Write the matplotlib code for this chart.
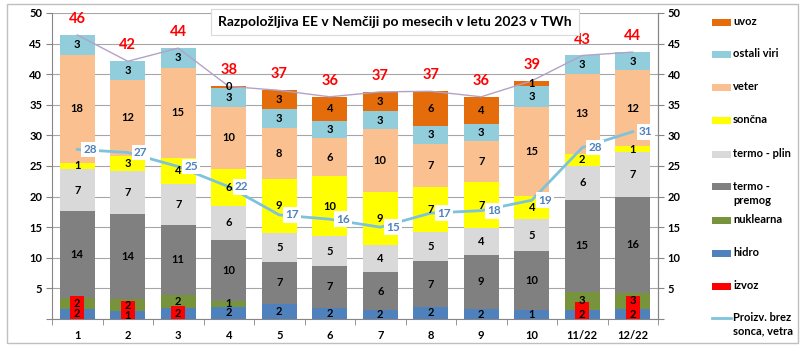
import matplotlib
matplotlib.use('Agg')
import matplotlib.pyplot as plt
from matplotlib.patches import Rectangle
import numpy as np

plt.rcParams['font.family'] = ['Lato', 'DejaVu Sans']

meseci = ['1', '2', '3', '4', '5', '6', '7', '8', '9', '10', '11/22', '12/22']

# TWh, odčitano s slike (od spodaj navzgor)
hidro = [1.7, 1.3, 1.75, 2.0, 2.45, 1.8, 1.5, 2.0, 1.6, 1.4, 1.55, 1.6]
nuklearna = [1.8, 1.9, 2.2, 1.0, 0, 0, 0, 0, 0, 0, 2.9, 2.7]
premog = [14.1, 14.0, 11.4, 9.9, 6.9, 6.9, 6.1, 7.4, 8.9, 9.7, 15.0, 15.6]
plin = [6.9, 6.9, 6.7, 5.6, 4.7, 4.8, 4.5, 4.8, 4.4, 5.2, 5.6, 7.4]
soncna = [1.0, 2.6, 4.3, 6.0, 8.9, 9.8, 8.6, 7.3, 7.4, 3.8, 1.9, 0.9]
veter = [17.7, 12.4, 14.7, 10.2, 8.3, 6.2, 10.3, 7.1, 6.8, 14.6, 13.1, 12.4]
ostali = [3.2, 3.0, 3.2, 3.1, 3.0, 2.85, 2.9, 3.0, 2.8, 3.3, 3.0, 3.0]
uvoz = [0, 0, 0, 0.2, 3.1, 3.95, 3.2, 5.6, 4.4, 0.9, 0, 0]
izvoz = [3.8, 3.0, 2.2, 0, 0, 0, 0, 0, 0, 0, 2.8, 3.8]
brez_sonca_vetra = [27.7, 27.2, 24.9, 21.6, 17.0, 16.3, 15.0, 17.3, 17.7, 19.4, 28.0, 30.6]

serije = [
    ('hidro', hidro, '#4F81BD'),
    ('nuklearna', nuklearna, '#77933C'),
    ('termo -\npremog', premog, '#808080'),
    ('termo - plin', plin, '#D9D9D9'),
    ('sončna', soncna, '#FFFF00'),
    ('veter', veter, '#FAC090'),
    ('ostali viri', ostali, '#92CDDC'),
    ('uvoz', uvoz, '#E46C0A'),
]

fig = plt.figure(figsize=(8, 3.51), dpi=100)
ax = fig.add_axes([0.065, 0.0912, 0.7575, 0.872])
x = np.arange(len(meseci))

bottom = np.zeros(len(meseci))
for ime, vals, barva in serije:
    vals = np.array(vals, dtype=float)
    ax.bar(x, vals, 0.69, bottom=bottom, color=barva, linewidth=0, zorder=2)
    for xi, b, v in zip(x, bottom, vals):
        if v > 0:
            ax.text(xi, b + v / 2, f"{v:.0f}", ha='center', va='center',
                    fontsize=8, fontweight='bold', color='black', zorder=8)
    bottom += vals
skupaj = bottom

ax.bar(x, izvoz, 0.27, color='#FF0000', linewidth=0, zorder=3)

ax.plot(x, skupaj, color='#B3A2C7', lw=1, zorder=4)
for xi, v in zip(x, skupaj):
    ax.text(xi, v + 2.6, f"{v:.0f}", ha='center', va='center', fontsize=10.5,
            fontweight='bold', color='#FF0000', zorder=8)

ax.plot(x, brez_sonca_vetra, color='#7DC3DC', lw=2, zorder=5)
for xi, v in zip(x, brez_sonca_vetra):
    ax.annotate(f"{v:.0f}", (xi, v), xytext=(13, 0), textcoords='offset pixels',
                ha='center', va='center', fontsize=8.5, fontweight='bold',
                color='#4F81BD', zorder=9,
                bbox=dict(boxstyle='square,pad=0.2', fc='white', ec='none'))

ax.set_xlim(-0.5, len(meseci) - 0.5)
ax.set_ylim(0, 50)
yt = np.arange(0, 55, 5)
ax.set_yticks(yt)
ax.set_yticklabels([''] + [str(v) for v in yt[1:]])
ax.set_xticks(x)
ax.set_xticklabels(meseci)
ax.set_xticks(np.arange(-0.5, len(meseci), 1), minor=True)
ax.tick_params(axis='x', which='major', length=0, pad=8)
ax.tick_params(axis='x', which='minor', length=4, color='#868686', direction='out')
ax.tick_params(axis='y', length=4, color='#868686', pad=3)
for lab in ax.get_xticklabels() + ax.get_yticklabels():
    lab.set_fontsize(8)
    lab.set_fontweight('bold')
ax.yaxis.grid(True, color='#A6A6A6', lw=0.8)
ax.set_axisbelow(True)
for s in ['left', 'bottom', 'right']:
    ax.spines[s].set_color('#868686')
ax.spines['top'].set_visible(False)

ax2 = ax.twinx()
ax2.set_ylim(0, 50)
ax2.set_yticks(yt)
ax2.set_yticklabels([''] + [str(v) for v in yt[1:]])
ax2.tick_params(axis='y', length=4, color='#868686', pad=3)
for lab in ax2.get_yticklabels():
    lab.set_fontsize(8)
    lab.set_fontweight('bold')
for s in ['left', 'bottom', 'top']:
    ax2.spines[s].set_visible(False)
ax2.spines['right'].set_color('#868686')

fig.text(0.494, 0.937, 'Razpoložljiva EE v Nemčiji po mesecih v letu 2023 v TWh',
         ha='center', va='center', fontsize=10, fontweight='bold',
         bbox=dict(boxstyle='square,pad=0.5', fc='white', ec='#D9D9D9', lw=0.8))

# legenda
W, H = 800, 351
legenda = [
    ('uvoz', '#E46C0A', 22), ('ostali viri', '#92CDDC', 54),
    ('veter', '#FAC090', 87), ('sončna', '#FFFF00', 120),
    ('termo - plin', '#D9D9D9', 154), ('termo -\npremog', '#808080', 187),
    ('nuklearna', '#77933C', 220), ('hidro', '#4F81BD', 253),
    ('izvoz', '#FF0000', 286),
]
for ime, barva, yp in legenda:
    fig.add_artist(Rectangle((712 / W, 1 - (yp + 3.5) / H), 19 / W, 7 / H,
                             transform=fig.transFigure, fc=barva, ec='none'))
    fig.text(733 / W, 1 - (yp - 6) / H, ime, ha='left', va='top', fontsize=8,
             fontweight='bold', linespacing=1.3)
fig.add_artist(plt.Line2D([712 / W, 731 / W], [1 - 318 / H, 1 - 318 / H],
                          transform=fig.transFigure, color='#7DC3DC', lw=2))
fig.text(733 / W, 1 - 312 / H, 'Proizv. brez\nsonca, vetra', ha='left', va='top',
         fontsize=8, fontweight='bold', linespacing=1.3)

fig.add_artist(Rectangle((0.009, 0.023), 0.988, 0.965, transform=fig.transFigure,
                         fill=False, ec='#BFBFBF', lw=1))

fig.savefig('out.png', dpi=100)
